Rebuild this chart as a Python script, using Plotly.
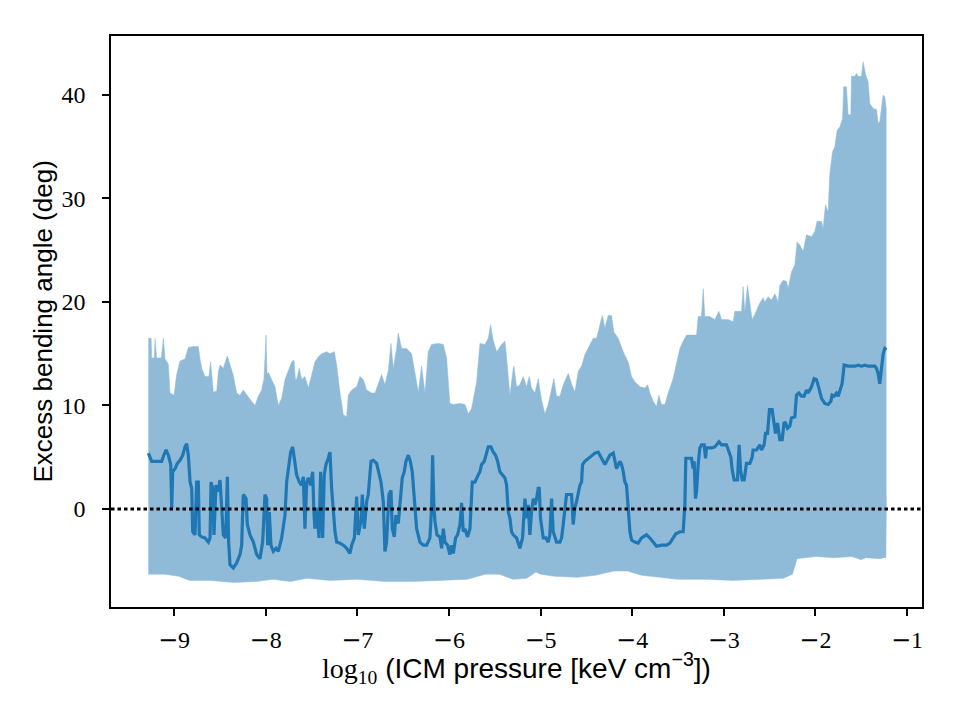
import plotly.graph_objects as go

# ---- upper edge of the shaded band (x = log10 pressure, y = deg) ----
upper_x = [-9.280, -9.250, -9.244, -9.215, -9.207, -9.190, -9.140, -9.116, -9.098, -9.062,
           -9.044, -9.000, -8.971, -8.935, -8.880, -8.844, -8.789, -8.735, -8.716, -8.698,
           -8.662, -8.620, -8.600, -8.589, -8.571, -8.534, -8.516, -8.498, -8.462, -8.418,
           -8.389, -8.353, -8.316, -8.280, -8.244, -8.207, -8.153, -8.116, -8.080, -8.043,
           -8.018, -7.996, -7.985, -7.971, -7.934, -7.898, -7.862, -7.825, -7.789, -7.753,
           -7.716, -7.691, -7.675, -7.662, -7.633, -7.607, -7.571, -7.534, -7.498, -7.462,
           -7.425, -7.389, -7.334, -7.298,
           -7.250, -7.225, -7.189, -7.152, -7.116, -7.098, -7.061, -7.007, -6.971, -6.934,
           -6.898, -6.843, -6.807, -6.771, -6.734, -6.698, -6.661, -6.632, -6.607, -6.571,
           -6.552, -6.516, -6.461, -6.407, -6.370, -6.334, -6.298, -6.261, -6.225, -6.189,
           -6.116, -6.061, -6.025, -5.989, -5.952, -5.879, -5.825, -5.788, -5.752, -5.697,
           -5.661, -5.606, -5.570, -5.545, -5.516, -5.479, -5.425, -5.388, -5.370, -5.334,
           -5.297,
           -5.290, -5.261, -5.225, -5.188, -5.152, -5.123, -5.098, -5.061, -5.025, -4.988,
           -4.952, -4.916, -4.890, -4.854, -4.825, -4.788, -4.752, -4.697, -4.661, -4.625,
           -4.588, -4.552, -4.516, -4.461, -4.425, -4.388, -4.359, -4.326, -4.297, -4.261,
           -4.225, -4.199, -4.152, -4.097, -4.043, -4.006, -3.970, -3.915, -3.861, -3.830,
           -3.806, -3.770, -3.734, -3.708, -3.679, -3.643, -3.606, -3.552, -3.515, -3.479,
           -3.443, -3.406, -3.352, -3.297,
           -3.279, -3.243, -3.224, -3.206, -3.152, -3.097, -3.053, -3.024, -2.952, -2.897,
           -2.879, -2.806, -2.788, -2.770, -2.741, -2.715, -2.690, -2.661, -2.606, -2.570,
           -2.552, -2.515, -2.479, -2.442, -2.406, -2.388,
           -2.352, -2.315, -2.297, -2.261, -2.224, -2.199, -2.170, -2.133, -2.097, -2.042,
           -2.006, -1.981, -1.933, -1.915, -1.890, -1.861, -1.842, -1.813, -1.788, -1.762,
           -1.733, -1.704, -1.690, -1.661, -1.642, -1.613, -1.606, -1.570, -1.551, -1.533,
           -1.497, -1.479, -1.450, -1.424, -1.406, -1.370, -1.333, -1.315, -1.297, -1.279,
           -1.260, -1.242, -1.231, -1.224]
upper_y = [16.5, 16.5, 14.6, 14.6, 16.5, 14.6, 14.6, 16.5, 14.5, 14.0,
           11.2, 11.0, 13.0, 14.3, 14.5, 15.6, 15.7, 15.7, 14.5, 13.6,
           12.8, 12.8, 14.2, 12.8, 11.3, 11.4, 13.3, 13.9, 13.6, 14.8,
           13.9, 12.9, 11.2, 11.0, 11.5, 11.0, 10.4, 10.0, 10.9, 11.5,
           12.6, 16.8, 13.0, 13.2, 12.5, 11.8, 10.0, 10.7, 12.5, 13.3,
           14.2, 14.4, 12.5, 12.5, 13.6, 12.5, 12.8, 11.7, 12.9, 14.2,
           14.7, 15.0, 15.2, 15.0,
           15.2, 13.9, 11.3, 9.1, 8.9, 11.0, 11.5, 11.8, 12.8, 12.5,
           11.5, 11.2, 11.2, 12.0, 13.0, 12.0, 13.4, 16.0, 13.6, 15.5,
           17.0, 15.5, 15.5, 15.0, 13.3, 11.3, 13.8, 11.2, 15.2, 15.9,
           16.0, 15.9, 14.6, 10.2, 10.1, 10.2, 10.1, 9.2, 9.7, 12.3,
           16.0, 15.9, 16.5, 17.8, 16.3, 15.2, 15.9, 16.2, 14.6, 11.0,
           13.6,
           13.8, 11.8, 12.0, 12.8, 11.8, 12.8, 11.7, 11.2, 12.6, 10.5,
           9.2, 10.1, 11.2, 12.6, 10.9, 10.9, 12.0, 13.1, 12.1, 11.3,
           13.3, 13.8, 14.9, 15.8, 16.5, 16.5, 17.5, 18.7, 17.5, 18.7,
           18.7, 17.1, 16.5, 15.2, 14.2, 12.8, 12.3, 11.8, 11.7, 12.0,
           11.2, 10.4, 9.9, 11.0, 10.1, 10.1, 11.2, 12.6, 14.1, 15.5,
           16.2, 16.8, 16.8, 16.8,
           18.6, 18.6, 21.3, 18.6, 18.6, 18.3, 19.1, 18.3, 18.3, 18.1,
           19.1, 19.1, 21.5, 19.0, 21.6, 19.6, 18.3, 18.8, 19.9, 20.4,
           20.0, 20.5, 20.2, 20.8, 20.0, 21.6,
           22.1, 22.0, 21.3, 22.9, 23.6, 25.8, 25.5, 24.9, 26.5, 26.3,
           26.8, 27.8, 27.8, 27.1, 29.4, 28.7, 32.4, 34.5, 35.0, 36.6,
           36.9, 37.7, 40.8, 40.8, 38.1, 38.1, 41.8, 41.8, 42.1, 41.8,
           41.8, 43.2, 41.9, 41.3, 39.2, 38.7, 38.6, 37.3, 37.4, 38.7,
           40.0, 39.8, 38.6, 38.5]

# ---- lower edge of the shaded band ----
lower_x = [-9.280, -9.100, -8.950, -8.830, -8.600, -8.350, -8.100, -7.920, -7.730, -7.550,
           -7.300, -7.000, -6.700, -6.400, -6.100, -5.800, -5.600, -5.450, -5.300, -5.150,
           -5.050, -5.000, -4.850, -4.600, -4.400, -4.200, -4.050, -3.900, -3.700, -3.500,
           -3.200, -2.900, -2.600, -2.350, -2.250, -2.200, -2.000, -1.800, -1.600, -1.500,
           -1.450, -1.300, -1.250, -1.230, -1.224]
lower_y = [-6.3, -6.3, -6.5, -6.9, -6.9, -7.1, -7.0, -6.8, -7.0, -6.7,
           -6.9, -6.8, -7.0, -7.0, -6.9, -6.8, -6.3, -6.3, -6.8, -6.7,
           -6.1, -6.3, -6.5, -6.6, -6.4, -6.0, -6.0, -6.4, -6.6, -6.8,
           -6.8, -6.9, -6.8, -6.7, -6.3, -4.8, -4.6, -4.7, -4.6, -4.9,
           -4.7, -4.8, -4.7, -4.7, 1.3]

# ---- median curve ----
median_x = [-9.280, -9.269, -9.244, -9.189, -9.135, -9.116, -9.087, -9.062, -9.036, -9.025,
            -9.015, -8.989, -8.964, -8.935, -8.905, -8.880, -8.862, -8.844, -8.825, -8.807,
            -8.796, -8.771, -8.753, -8.735, -8.724, -8.698, -8.662, -8.625, -8.607, -8.596,
            -8.578, -8.564, -8.542, -8.527, -8.513, -8.498, -8.484, -8.462, -8.436, -8.418,
            -8.404, -8.389, -8.353, -8.316, -8.280, -8.262, -8.244, -8.214, -8.200, -8.171,
            -8.134, -8.098, -8.062, -8.033, -8.007, -7.989, -7.978, -7.960, -7.942, -7.916,
            -7.887, -7.862, -7.825, -7.789, -7.771, -7.753, -7.727, -7.705, -7.680, -7.662,
            -7.633, -7.607, -7.589, -7.571, -7.552, -7.534, -7.509, -7.487, -7.473, -7.462,
            -7.443, -7.418, -7.400, -7.378, -7.360, -7.342, -7.316, -7.298,
            -7.280, -7.262, -7.243, -7.225, -7.189, -7.152, -7.116, -7.080, -7.061, -7.032,
            -7.007, -6.989, -6.960, -6.945, -6.923, -6.898, -6.880, -6.850, -6.825, -6.789,
            -6.770, -6.741, -6.716, -6.698, -6.680, -6.654, -6.632, -6.618, -6.596, -6.578,
            -6.552, -6.534, -6.509, -6.487, -6.469, -6.443, -6.421, -6.400, -6.378, -6.352,
            -6.316, -6.280, -6.243, -6.207, -6.189, -6.178, -6.163, -6.152, -6.130, -6.098,
            -6.079, -6.061, -6.043, -6.014, -5.989, -5.970, -5.952, -5.927, -5.905, -5.879,
            -5.861, -5.843, -5.825, -5.796, -5.770, -5.759, -5.745, -5.716, -5.698, -5.679,
            -5.661, -5.643, -5.614, -5.588, -5.570, -5.541, -5.516, -5.490, -5.468, -5.443,
            -5.417, -5.388, -5.370, -5.352, -5.334, -5.316, -5.297,
            -5.261, -5.225, -5.196, -5.170, -5.152, -5.134, -5.116, -5.098, -5.079, -5.061,
            -5.043, -5.025, -5.014, -5.000, -4.988, -4.970, -4.941, -4.916, -4.898, -4.879,
            -4.861, -4.843, -4.825, -4.788, -4.770, -4.752, -4.734, -4.716, -4.679, -4.661,
            -4.643, -4.625, -4.607, -4.588, -4.570, -4.552, -4.541, -4.516, -4.479, -4.443,
            -4.406, -4.370, -4.334, -4.297, -4.279, -4.243, -4.206, -4.188, -4.170, -4.134,
            -4.115, -4.097, -4.079, -4.061, -4.043, -4.024, -4.006, -3.970, -3.934, -3.897,
            -3.843, -3.806, -3.770, -3.734, -3.679, -3.624, -3.588, -3.552, -3.523, -3.479,
            -3.443, -3.424, -3.414, -3.388, -3.352, -3.334, -3.323, -3.308, -3.297, -3.279,
            -3.261,
            -3.243, -3.214, -3.199, -3.188, -3.133, -3.097, -3.053, -3.024, -2.970, -2.952,
            -2.922, -2.908, -2.886, -2.850, -2.832, -2.817, -2.799, -2.777, -2.752, -2.715,
            -2.690, -2.679, -2.642, -2.606, -2.588, -2.559, -2.544, -2.522, -2.501, -2.472,
            -2.450, -2.435, -2.413, -2.388, -2.362, -2.341, -2.326, -2.304, -2.279, -2.261,
            -2.224, -2.206, -2.181, -2.151, -2.122, -2.097, -2.079, -2.042, -2.013, -1.988,
            -1.962, -1.933, -1.897, -1.860, -1.831, -1.817, -1.795, -1.770, -1.751, -1.726,
            -1.708, -1.686, -1.642, -1.606, -1.570, -1.533, -1.497, -1.460, -1.424, -1.388,
            -1.351, -1.333, -1.315, -1.297, -1.279, -1.260, -1.242, -1.224]
median_y = [5.4, 5.1, 4.6, 4.6, 4.6, 5.1, 5.7, 5.2, 4.3, 0.1,
            3.6, 3.9, 4.4, 4.7, 5.2, 6.0, 6.3, 5.2, 2.6, 2.0,
            -2.2, -2.5, 2.6, 2.6, -2.5, -2.7, -2.8, -3.2, -2.8, 2.6,
            2.0, -2.5, 2.3, 1.7, 2.0, 2.8, 1.0, -2.5, -2.8, 3.1,
            -3.2, -5.4, -5.7, -5.2, -4.4, -3.5, 1.4, 1.0, -1.5, -2.5,
            -3.2, -4.4, -4.8, -3.2, 1.4, 1.0, -3.5, -0.3, -3.5, -4.1,
            -3.8, -4.1, -2.8, -0.6, 2.6, 3.6, 5.5, 6.0, 4.3, 3.3,
            2.6, 2.3, 3.1, -1.9, 2.6, 3.0, 2.3, 3.6, -0.3, -1.9,
            0.1, -2.8, 3.6, -2.8, 3.3, 4.3, 4.9, 5.5,
            2.0, -0.6, -2.2, -3.2, -3.3, -3.5, -3.8, -4.3, -3.5, -2.8,
            1.2, -2.5, -1.2, 1.4, -1.9, 0.7, 1.4, 4.6, 4.7, 4.4,
            3.6, 2.6, 0.7, -4.1, -3.2, 1.4, 1.8, -1.9, -2.7, -0.6,
            -1.4, 0.7, 3.0, 3.6, 4.6, 5.2, 4.6, 3.6, 0.7, -1.9,
            -3.2, -3.5, -3.5, -2.8, 0.1, 5.2, 0.1, -1.2, -2.5, -2.7,
            -3.8, -1.9, -3.2, -3.5, -4.4, -3.5, -4.3, -2.8, -2.5, -1.5,
            0.6, -2.2, -1.9, -2.7, -1.9, 0.4, 2.6, 2.6, 3.0, 3.3,
            3.6, 4.3, 4.6, 5.5, 6.0, 6.0, 5.5, 5.2, 4.6, 3.6,
            3.3, 3.0, 2.3, -0.3, -0.9, -2.2, -2.5,
            -2.8, -3.8, -2.8, 1.0, -0.9, 0.4, -2.5, -0.3, 1.0, 0.4,
            1.0, 2.0, 2.0, -0.9, -1.5, -2.8, -2.8, -3.2, -2.5, 1.0,
            -2.2, -2.8, -3.2, -3.2, -2.8, -1.5, 0.4, 1.4, 1.4, 1.4,
            -1.5, 0.1, 0.7, 1.4, 2.3, 2.6, 4.3, 4.6, 4.9, 5.2,
            5.4, 5.5, 4.9, 4.3, 4.6, 5.2, 5.4, 4.6, 3.9, 4.6,
            4.3, 3.6, 2.6, 2.3, 0.4, -2.2, -3.0, -3.2, -3.3, -2.8,
            -2.5, -2.8, -3.2, -3.6, -3.5, -3.5, -3.3, -2.8, -2.4, -2.2,
            -2.2, 0.4, 4.9, 4.9, 4.9, 3.9, 4.6, 1.0, 1.7, 4.3,
            5.9,
            6.2, 6.2, 4.9, 5.9, 5.9, 6.0, 6.5, 6.2, 6.2, 5.7,
            5.0, 3.8, 2.8, 2.8, 6.2, 3.8, 2.8, 2.8, 4.4, 4.4,
            5.0, 5.7, 5.7, 6.2, 5.7, 6.2, 7.3, 7.3, 9.6, 9.6,
            8.0, 7.3, 8.3, 6.7, 6.7, 8.4, 8.3, 7.8, 8.0, 8.8,
            8.9, 11.0, 11.2, 10.9, 10.9, 11.5, 11.2, 11.8, 12.6, 12.5,
            11.7, 10.7, 10.2, 10.1, 10.4, 11.0, 10.9, 11.2, 10.9, 11.5,
            12.1, 13.9, 13.8, 13.8, 13.8, 13.9, 13.8, 13.9, 13.8, 13.8,
            13.8, 13.6, 13.1, 12.1, 13.4, 15.0, 15.5, 15.4]

x_ticks = [-9, -8, -7, -6, -5, -4, -3, -2, -1]
y_ticks = [0, 10, 20, 30, 40]

band_color = "#8fbbd9"
line_color = "#1f77b4"

fig = go.Figure()
fig.add_trace(go.Scatter(x=lower_x, y=lower_y, mode="lines",
                         line=dict(color=band_color, width=0.5),
                         hoverinfo="skip", showlegend=False))
fig.add_trace(go.Scatter(x=upper_x, y=upper_y, mode="lines", fill="tonexty",
                         fillcolor=band_color,
                         line=dict(color=band_color, width=0.5),
                         hoverinfo="skip", showlegend=False))
fig.add_trace(go.Scatter(x=median_x, y=median_y, mode="lines",
                         line=dict(color=line_color, width=3.2),
                         showlegend=False))
fig.add_hline(y=0, line=dict(color="black", width=3, dash="3.5px,3px"))

tick_font = dict(family="Liberation Serif", size=24, color="black")
axis_common = dict(showline=True, mirror=True, linecolor="black", linewidth=1.5,
                   ticks="outside", ticklen=7, tickwidth=1.5, tickcolor="black",
                   showgrid=False, zeroline=False, tickfont=tick_font)

minus = "<span style=\"font-family:'DejaVu Serif'\">\u2212</span>"

fig.update_layout(
    width=960, height=720,
    margin=dict(l=111, r=38, t=36, b=113),
    paper_bgcolor="white", plot_bgcolor="white",
    xaxis=dict(range=[-9.688, -0.836], tickvals=x_ticks, ticklabelstandoff=3,
               ticktext=[minus + str(-v) for v in x_ticks], **axis_common),
    yaxis=dict(range=[-9.47, 45.70], tickvals=y_ticks, ticklabelstandoff=12,
               **axis_common),
)

fig.add_annotation(
    text="Excess bending angle (deg)", xref="paper", yref="paper",
    x=0, y=0.5, xanchor="center", yanchor="middle", xshift=-69,
    textangle=-90, showarrow=False,
    font=dict(family="Liberation Sans, Arial, sans-serif", size=26, color="black"))
fig.add_annotation(
    text="<span style=\"font-family:'Liberation Serif'\">log<sub>10</sub></span> (ICM pressure [keV cm<sup>\u22123</sup>])",
    xref="paper", yref="paper", x=0.5, y=0, xanchor="center", yanchor="middle",
    yshift=-61, showarrow=False,
    font=dict(family="Liberation Sans, Arial, sans-serif", size=28, color="black"))

fig.write_html("out.html")
